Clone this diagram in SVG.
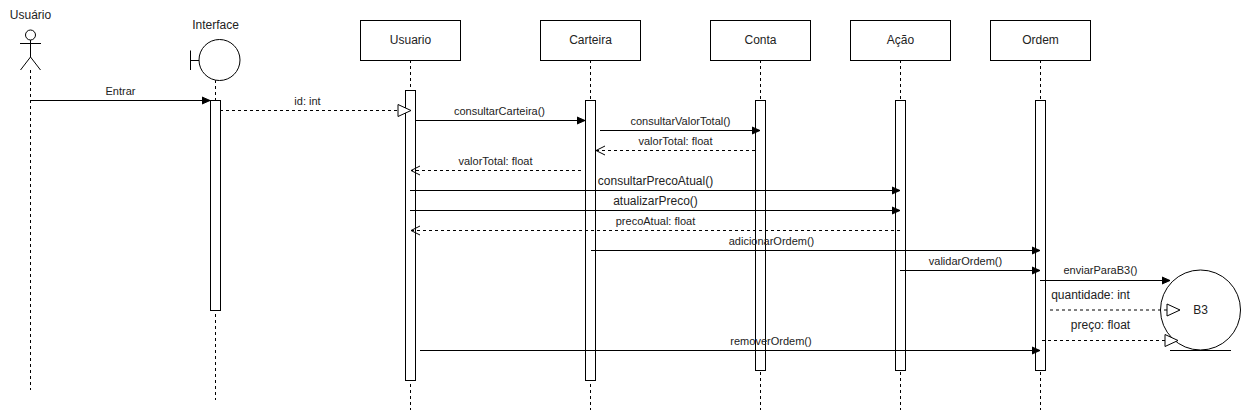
<svg xmlns="http://www.w3.org/2000/svg" width="1241" height="411" viewBox="0 0 1241 411">
<style>
text{font-family:"Liberation Sans",Arial,sans-serif;font-size:11px;fill:#222;text-anchor:middle}
.big{font-size:12px}
.s{fill:#fff;stroke:#000;stroke-width:1}
.n{fill:none;stroke:#000;stroke-width:1}
.life{fill:none;stroke:#000;stroke-width:1;stroke-dasharray:3 3}
.msg{fill:none;stroke:#000;stroke-width:1}
.ret{fill:none;stroke:#000;stroke-width:1;stroke-dasharray:3 3}
</style>
<defs>
<marker id="fill" markerUnits="userSpaceOnUse" markerWidth="10" markerHeight="10" refX="8" refY="5" orient="auto"><path d="M0 1.500L8 5L0 8.500Z" fill="#000" stroke="#000" stroke-width="1"/></marker>
<marker id="open" markerUnits="userSpaceOnUse" markerWidth="12" markerHeight="12" refX="10" refY="6" orient="auto"><path d="M1 1.500L10 6L1 10.500" fill="none" stroke="#000" stroke-width="1"/></marker>
<marker id="tri" markerUnits="userSpaceOnUse" markerWidth="16" markerHeight="16" refX="14" refY="8" orient="auto"><path d="M1 2L14 8L1 14Z" fill="#fff" stroke="#000" stroke-width="1"/></marker>
</defs>
<rect width="1241" height="411" fill="#fff"/>

<g id="lifelines">
<path class="life" d="M30.500 70V390M215.500 80V400M410.500 60V410M590.500 60V410M760.500 60V410M900.500 60V410M1040.500 60V410"/>
</g>

<g id="node-usuario-actor">
<circle class="n" cx="30.500" cy="35" r="5"/>
<path class="n" d="M30.500 40V57M20 43.500H41M30.500 57L20.500 70M30.500 57L40.500 70"/>
<text class="big" x="30.500" y="19">Usuário</text>
</g>
<g id="node-interface">
<circle class="s" cx="219.500" cy="60" r="20.500"/>
<path class="n" d="M190.500 50.500V70M190.500 60.500H199"/>
<text class="big" x="215.500" y="29">Interface</text>
</g>
<g id="node-usuario">
<rect class="s" x="360.500" y="20.500" width="100" height="40"/>
<text class="big" x="410.500" y="44">Usuario</text>
<rect class="s" x="405.500" y="90.500" width="10" height="290"/>
</g>
<g id="node-carteira">
<rect class="s" x="540.500" y="20.500" width="100" height="40"/>
<text class="big" x="590.500" y="44">Carteira</text>
<rect class="s" x="585.500" y="100.500" width="10" height="280"/>
</g>
<g id="node-conta">
<rect class="s" x="710.500" y="20.500" width="100" height="40"/>
<text class="big" x="760.500" y="44">Conta</text>
<rect class="s" x="755.500" y="100.500" width="10" height="270"/>
</g>
<g id="node-acao">
<rect class="s" x="850.500" y="20.500" width="100" height="40"/>
<text class="big" x="900.500" y="44">Ação</text>
<rect class="s" x="895.500" y="100.500" width="10" height="270"/>
</g>
<g id="node-ordem">
<rect class="s" x="990.500" y="20.500" width="100" height="40"/>
<text class="big" x="1040.500" y="44">Ordem</text>
<rect class="s" x="1035.500" y="100.500" width="10" height="270"/>
</g>
<g id="node-interface-activation">
<rect class="s" x="210.500" y="100.500" width="10" height="210"/>
</g>
<g id="node-b3">
<circle class="s" cx="1200.500" cy="310" r="40"/>
<path class="n" d="M1170 350.500H1231"/>
<text class="big" x="1200.500" y="314">B3</text>
</g>

<g id="connectors">
<line class="msg" x1="30.500" y1="100.500" x2="210" y2="100.500" marker-end="url(#fill)"/>
<line class="ret" x1="220" y1="110.500" x2="411" y2="110.500" marker-end="url(#tri)"/>
<line class="msg" x1="415" y1="120.500" x2="585" y2="120.500" marker-end="url(#fill)"/>
<line class="msg" x1="600" y1="130.500" x2="760" y2="130.500" marker-end="url(#fill)"/>
<line class="ret" x1="755" y1="150.500" x2="596" y2="150.500" marker-end="url(#open)"/>
<line class="ret" x1="581" y1="170.500" x2="411" y2="170.500" marker-end="url(#open)"/>
<line class="msg" x1="410" y1="190.500" x2="900" y2="190.500" marker-end="url(#fill)"/>
<line class="msg" x1="410" y1="210.500" x2="900" y2="210.500" marker-end="url(#fill)"/>
<line class="ret" x1="900" y1="230.500" x2="411" y2="230.500" marker-end="url(#open)"/>
<line class="msg" x1="591" y1="250.500" x2="1040" y2="250.500" marker-end="url(#fill)"/>
<line class="msg" x1="900" y1="270.500" x2="1040" y2="270.500" marker-end="url(#fill)"/>
<line class="msg" x1="1040" y1="280.500" x2="1170" y2="280.500" marker-end="url(#fill)"/>
<line class="ret" x1="1050" y1="310" x2="1180" y2="310" marker-end="url(#tri)"/>
<line class="ret" x1="1042" y1="340.500" x2="1178" y2="340.500" marker-end="url(#tri)"/>
<line class="msg" x1="420" y1="350.500" x2="1040" y2="350.500" marker-end="url(#fill)"/>
</g>

<g id="labels">
<text x="120.500" y="95">Entrar</text>
<text x="307.500" y="105">id: int</text>
<text x="499.500" y="115">consultarCarteira()</text>
<text x="680.500" y="125">consultarValorTotal()</text>
<text x="675.500" y="145">valorTotal: float</text>
<text x="495.500" y="165">valorTotal: float</text>
<text class="big" x="655.500" y="185">consultarPrecoAtual()</text>
<text class="big" x="655.500" y="205">atualizarPreco()</text>
<text x="655.500" y="225">precoAtual: float</text>
<text x="771.500" y="245">adicionarOrdem()</text>
<text x="965.500" y="265">validarOrdem()</text>
<text x="1100.500" y="274">enviarParaB3()</text>
<text class="big" x="1090.500" y="299">quantidade: int</text>
<text class="big" x="1100.500" y="329">preço: float</text>
<text x="771" y="345">removerOrdem()</text>
</g>
</svg>
